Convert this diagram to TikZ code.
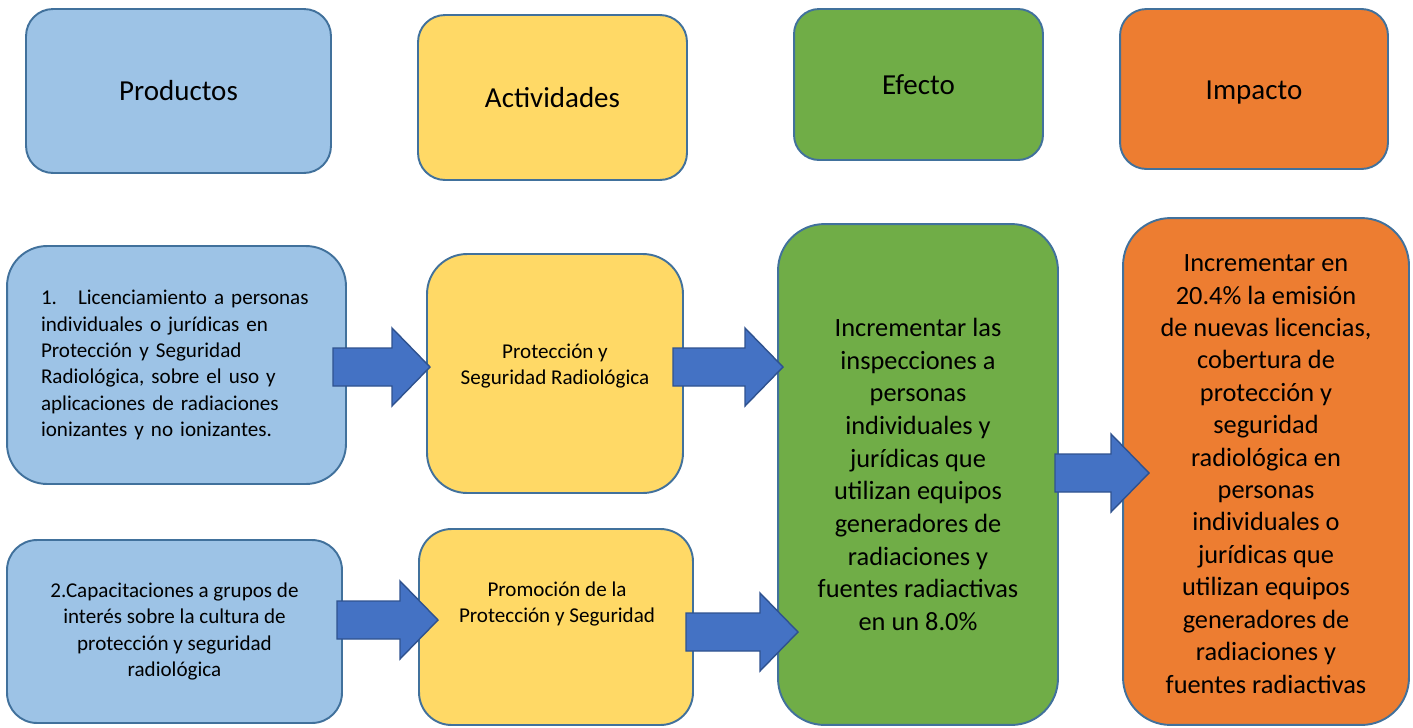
\documentclass[tikz,border=0pt]{standalone}
\usepackage{fontspec}
\setmainfont{Carlito}
\definecolor{boxline}{HTML}{41719C}
\definecolor{prodfill}{HTML}{9DC3E6}
\definecolor{actfill}{HTML}{FFD966}
\definecolor{efefill}{HTML}{70AD47}
\definecolor{impfill}{HTML}{ED7D31}
\definecolor{arrowfill}{HTML}{4472C4}
\definecolor{arrowline}{HTML}{2F528F}
\begin{document}
\begin{tikzpicture}[x=0.02cm, y=-0.02cm, line join=round,
    box/.style={draw=boxline, line width=1.1pt, anchor=center, inner sep=0pt},
    head/.style={box, font=\fontsize{16.5}{20}\selectfont},
    small/.style={font=\fontsize{12}{15}\selectfont, align=center},
    big/.style={font=\fontsize{15}{18.6}\selectfont, align=center},
    pics/blockarrow/.style={code={
        \draw[draw=arrowline, fill=arrowfill, line width=0.8pt, line join=miter]
          (0,-19) -- ({#1-38},-19) -- ({#1-38},-39) -- (#1,0) -- ({#1-38},39) -- ({#1-38},19) -- (0,19) -- cycle;}}]

    \useasboundingbox (0,0) rectangle (1413,727);

    % headings
    \node[head, fill=prodfill, minimum width=6.1cm, minimum height=3.28cm, rounded corners=0.54cm] (productos) at (178.5,91) {Productos};
    \node[head, fill=actfill, minimum width=5.38cm, minimum height=3.3cm, rounded corners=0.54cm] (actividades) at (552.5,97.5) {Actividades};
    \node[head, fill=efefill, minimum width=4.98cm, minimum height=3.02cm, rounded corners=0.5cm] (efecto) at (918.5,84.5) {Efecto};
    \node[head, fill=impfill, minimum width=5.36cm, minimum height=3.2cm, rounded corners=0.53cm] (impacto) at (1254,89) {\raisebox{-0.08cm}[\height][\depth]{Impacto}};

    % productos
    \node[box, small, fill=prodfill, minimum width=6.78cm, minimum height=4.76cm, rounded corners=0.8cm, align=left, text width=5.42cm] (prodA) at (176.5,365)
        {1.\hspace{0.42cm}Licenciamiento a personas\\individuales o jurídicas en\\Protección y Seguridad\\Radiológica, sobre el uso y\\aplicaciones de radiaciones\\ionizantes y no ionizantes.};
    \node[box, small, fill=prodfill, minimum width=6.7cm, minimum height=3.66cm, rounded corners=0.6cm] (prodB) at (174.5,631.5)
        {2.Capacitaciones a grupos de\\interés sobre la cultura de\\protección y seguridad\\radiológica};

    % actividades
    \node[box, fill=actfill, minimum width=5.12cm, minimum height=4.78cm, rounded corners=0.8cm] (actA) at (555,373.5) {};
    \node[small] (actAtxt) at (555,366) {Protección y\\Seguridad Radiológica};
    \node[box, fill=actfill, minimum width=5.48cm, minimum height=3.92cm, rounded corners=0.65cm] (actB) at (556,627) {};
    \node[small] (actBtxt) at (557,604) {Promoción de la\\Protección y Seguridad};

    % efecto e impacto
    \node[box, big, fill=efefill, minimum width=5.6cm, minimum height=10.02cm, rounded corners=0.93cm] (efeA) at (918,474.5)
        {Incrementar las\\inspecciones a\\personas\\individuales y\\jurídicas que\\utilizan equipos\\generadores de\\radiaciones y\\fuentes radiactivas\\en un 8.0\%};
    \node[box, big, fill=impfill, minimum width=5.72cm, minimum height=10.14cm, rounded corners=0.95cm] (impA) at (1266,471.5)
        {\raisebox{-0.05cm}[\height][\depth]{\parbox{5.5cm}{\centering\fontsize{15}{18.45}\selectfont Incrementar en\\20.4\% la emisión\\de nuevas licencias,\\cobertura de\\protección y\\seguridad\\radiológica en\\personas\\individuales o\\jurídicas que\\utilizan equipos\\generadores de\\radiaciones y\\fuentes radiactivas}}};

    % flechas
    \pic at (333,367) {blockarrow=97};
    \pic at (673,367) {blockarrow=110};
    \pic at (337,620) {blockarrow=101};
    \pic at (686,632) {blockarrow=112};
    \pic at (1055,473) {blockarrow=94};
\end{tikzpicture}
\end{document}
